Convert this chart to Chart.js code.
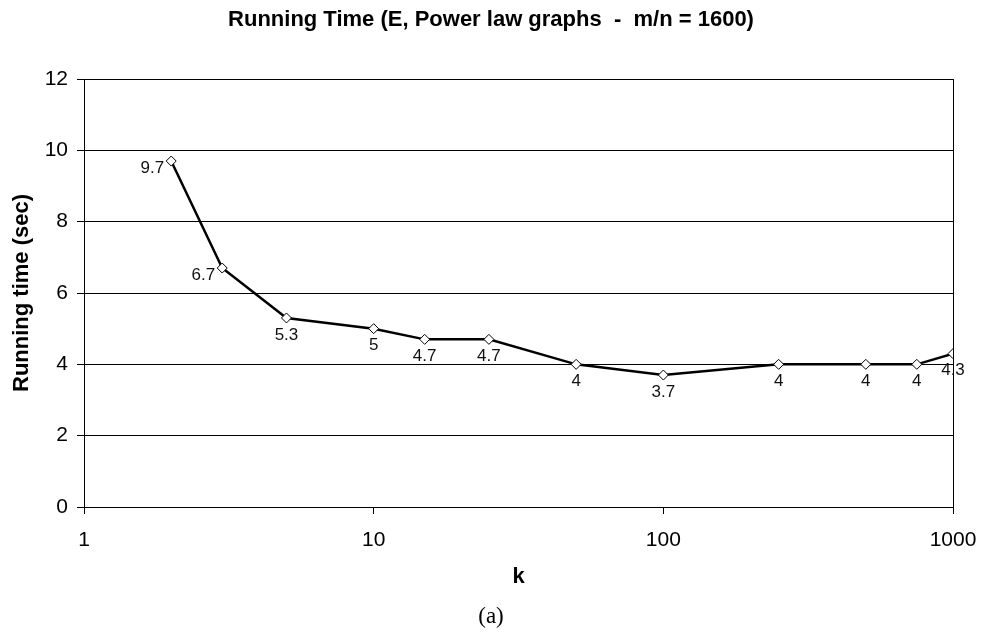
<!DOCTYPE html>
<html>
<head>
<meta charset="utf-8">
<script src="https://cdn.jsdelivr.net/npm/chart.js@4.4.1/dist/chart.umd.min.js"></script>
<style>
    html, body { margin: 0; padding: 0; background: #fff; }
    canvas { display: block; }
</style>
</head>
<body>
<canvas id="grafico" width="982" height="633"></canvas>
<script>
// valores
const K_VALORES = [2, 3, 5, 10, 15, 25, 50, 100, 250, 500, 750, 1000];
const TEMPOS = [9.7, 6.7, 5.3, 5, 4.7, 4.7, 4, 3.7, 4, 4, 4, 4.3];
const X_TICKS = [1, 10, 100, 1000];
const Y_MIN = 0;
const Y_MAX = 12;
const Y_PASSO = 2;

const TITULO = 'Running Time (E, Power law graphs  -  m/n = 1600)';
const TITULO_X = 'k';
const TITULO_Y = 'Running time (sec)';
const LEGENDA = '(a)';

const FONTE = "'Liberation Sans', Arial, sans-serif";

var pontos = [];
for (let i = 0; i < K_VALORES.length; i++) {
    pontos.push({ x: K_VALORES[i], y: TEMPOS[i] });
}

// borda da area do grafico (lado direito)
const bordaPlugin = {
    id: 'borda',
    afterDraw(chart) {
        const a = chart.chartArea;
        const ctx = chart.ctx;
        ctx.save();
        ctx.strokeStyle = '#000';
        ctx.lineWidth = 1;
        ctx.beginPath();
        ctx.moveTo(Math.round(a.right) + 0.5, a.top);
        ctx.lineTo(Math.round(a.right) + 0.5, a.bottom + 7);
        ctx.stroke();
        ctx.restore();
    }
};

// rotulos dos pontos, estilo excel
const rotulosPlugin = {
    id: 'rotulos',
    afterDatasetsDraw(chart) {
        const ctx = chart.ctx;
        const meta = chart.getDatasetMeta(0);
        ctx.save();
        ctx.font = "17px " + FONTE;
        ctx.fillStyle = '#111';
        ctx.textBaseline = 'middle';
        meta.data.forEach(function(pt, i) {
            const txt = String(TEMPOS[i]);
            if (i < 2) {
                ctx.textAlign = 'right';
                ctx.fillText(txt, pt.x - 7, pt.y + 7);
            } else {
                ctx.textAlign = 'center';
                ctx.fillText(txt, pt.x, pt.y + 17);
            }
        });
        ctx.restore();
    }
};

new Chart(document.getElementById('grafico'), {
    type: 'line',
    data: {
        datasets: [{
            label: TITULO_Y,
            data: pontos,
            borderColor: '#000',
            borderWidth: 2.5,
            tension: 0,
            fill: false,
            pointStyle: 'rectRot',
            pointRadius: 5,
            pointHoverRadius: 5,
            pointBackgroundColor: '#fff',
            pointBorderColor: '#000',
            pointBorderWidth: 1
        }]
    },
    options: {
        responsive: false,
        animation: false,
        layout: { padding: 0 },
        plugins: {
            legend: { display: false },
            tooltip: { enabled: false },
            title: {
                display: true,
                text: TITULO,
                color: '#000',
                font: { family: FONTE, size: 22, weight: 'bold' },
                padding: { top: 6.3, bottom: 46.3 }
            },
            subtitle: {
                display: true,
                position: 'bottom',
                text: LEGENDA,
                color: '#000',
                font: { family: "'Liberation Serif', 'DejaVu Serif', serif", size: 23, weight: 'normal' },
                padding: { top: 13, bottom: 2.2 }
            }
        },
        scales: {
            x: {
                type: 'logarithmic',
                min: X_TICKS[0],
                max: X_TICKS[X_TICKS.length - 1],
                afterBuildTicks: function(scale) {
                    scale.ticks = X_TICKS.map(v => ({ value: v }));
                },
                afterFit: function(scale) {
                    scale.height = 83.2;
                    scale.paddingRight = 29;
                },
                border: { display: true, color: '#000', width: 1 },
                grid: { drawOnChartArea: false, drawTicks: true, tickLength: 7, color: '#000' },
                ticks: {
                    color: '#000',
                    padding: 13.4,
                    autoSkip: false,
                    maxRotation: 0,
                    font: { family: FONTE, size: 21 },
                    callback: function(v) { return String(v); }
                },
                title: {
                    display: true,
                    text: TITULO_X,
                    color: '#000',
                    font: { family: FONTE, size: 22, weight: 'bold' },
                    padding: { top: 0, bottom: 0 }
                }
            },
            y: {
                min: Y_MIN,
                max: Y_MAX,
                afterFit: function(scale) { scale.width = 84; },
                border: { display: true, color: '#000', width: 1 },
                grid: { color: '#000', lineWidth: 1, tickLength: 7 },
                ticks: {
                    stepSize: Y_PASSO,
                    color: '#000',
                    padding: 9,
                    font: { family: FONTE, size: 21 }
                },
                title: {
                    display: true,
                    text: TITULO_Y,
                    color: '#000',
                    font: { family: FONTE, size: 22, weight: 'bold' },
                    padding: { top: 8.8, bottom: 0 }
                }
            }
        }
    },
    plugins: [bordaPlugin, rotulosPlugin]
});
</script>
</body>
</html>
